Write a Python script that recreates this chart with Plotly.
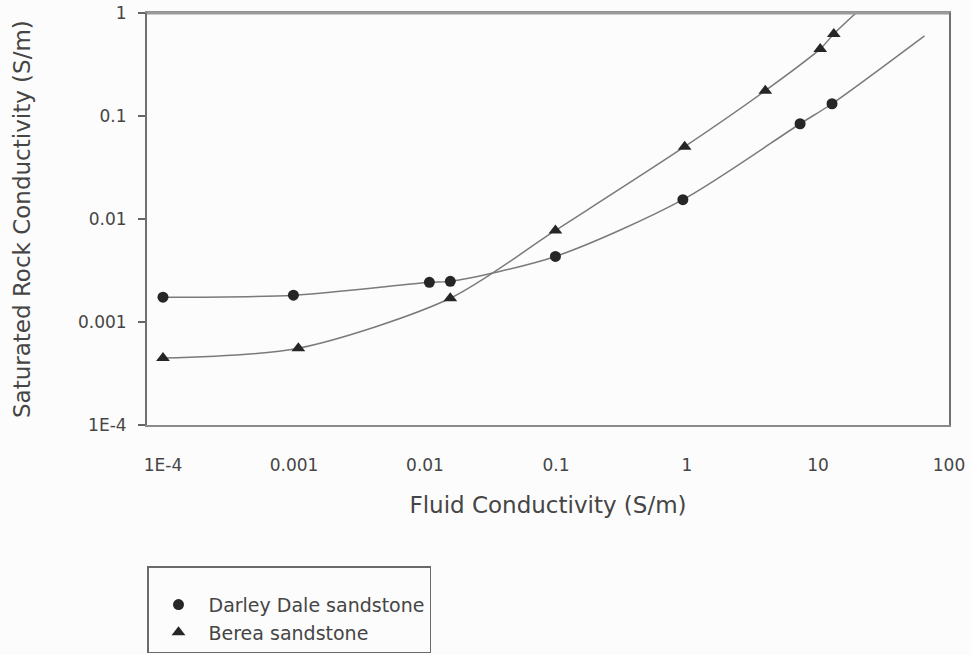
import plotly.graph_objects as go

# Measured points (fluid conductivity vs saturated rock conductivity, S/m)
darley_fluid = [1e-4, 0.00099, 0.0108, 0.0156, 0.099, 0.93, 7.3, 12.8]
darley_rock = [0.00174, 0.00182, 0.00243, 0.00248, 0.00433, 0.0154, 0.0841, 0.1315]

berea_fluid = [1e-4, 0.00108, 0.0156, 0.099, 0.96, 3.96, 10.4, 13.2]
berea_rock = [0.000446, 0.000557, 0.0017, 0.00774, 0.0504, 0.176, 0.448, 0.626]

# Nodes of the fitted model curves
darley_curve_fluid = [1e-4, 0.001, 0.0108, 0.0156, 0.099, 0.93, 7.3, 12.8, 65]
darley_curve_rock = [0.00174, 0.00182, 0.00243, 0.00248, 0.00433, 0.0154, 0.0841, 0.1315, 0.6]

berea_curve_fluid = [1e-4, 0.00108, 0.0156, 0.099, 0.96, 3.96, 10.4, 13.2, 19.5]
berea_curve_rock = [0.000446, 0.000557, 0.0017, 0.00774, 0.0504, 0.176, 0.448, 0.626, 1.0]

x_ticks = [1e-4, 1e-3, 1e-2, 1e-1, 1, 10, 100]
x_tick_labels = ["1E-4", "0.001", "0.01", "0.1", "1", "10", "100"]
y_ticks = [1e-4, 1e-3, 1e-2, 1e-1, 1]
y_tick_labels = ["1E-4", "0.001", "0.01", "0.1", "1"]

FONT = "DejaVu Sans"
TEXT = "#454545"
LINE = "#7a7a7a"
MARK = "#262626"
FRAME = "#8a8a8a"

W, H = 972, 655
ML, MR, MT, MB = 147, 23, 13, 230

fig = go.Figure()

fig.add_trace(go.Scatter(
    x=darley_curve_fluid, y=darley_curve_rock, mode="lines",
    line=dict(color=LINE, width=1.5, shape="spline", smoothing=0.8),
    showlegend=False, hoverinfo="skip"))
fig.add_trace(go.Scatter(
    x=berea_curve_fluid, y=berea_curve_rock, mode="lines",
    line=dict(color=LINE, width=1.5, shape="spline", smoothing=0.8),
    showlegend=False, hoverinfo="skip"))

fig.add_trace(go.Scatter(
    x=darley_fluid, y=darley_rock, mode="markers", name="Darley Dale sandstone",
    marker=dict(symbol="circle", size=11, color=MARK)))
fig.add_trace(go.Scatter(
    x=berea_fluid, y=berea_rock, mode="markers", name="Berea sandstone",
    marker=dict(symbol="triangle-up", size=12, color=MARK)))

fig.update_layout(
    width=W, height=H,
    margin=dict(l=ML, r=MR, t=MT, b=MB, autoexpand=False),
    paper_bgcolor="#fcfcfc", plot_bgcolor="#fcfcfc",
    font=dict(family=FONT, color=TEXT),
    showlegend=True,
    legend=dict(
        xref="container", yref="container",
        x=147 / W, y=1 - 566 / H, xanchor="left", yanchor="top",
        bgcolor="#fcfcfc", bordercolor="#6a6a6a", borderwidth=1.5,
        font=dict(family=FONT, size=19, color=TEXT),
        itemwidth=50,
        title=dict(text=" ", font=dict(size=14)),
    ),
)

fig.update_xaxes(
    type="log", range=[-4.122, 2.0],
    tickvals=x_ticks, ticktext=x_tick_labels,
    tickfont=dict(family=FONT, size=17, color=TEXT),
    ticks="", ticklabelstandoff=24,
    showgrid=False, zeroline=False,
    showline=True, linecolor=FRAME, linewidth=2, mirror=True,
    title=dict(text="Fluid Conductivity (S/m)", standoff=22,
               font=dict(family=FONT, size=23, color=TEXT)),
)
fig.update_yaxes(
    type="log", range=[-4, 0],
    tickvals=y_ticks, ticktext=y_tick_labels,
    tickfont=dict(family=FONT, size=17, color=TEXT),
    ticks="outside", ticklen=7, tickwidth=1.5, tickcolor="#666666",
    ticklabelstandoff=8,
    showgrid=False, zeroline=False,
    showline=True, linecolor="#707070", linewidth=2, mirror=True,
)

# vertical axis title, placed beside the tick labels
plot_w = W - ML - MR
fig.add_annotation(
    text="Saturated Rock Conductivity (S/m)", textangle=-90,
    xref="paper", yref="paper", x=(22 - ML) / plot_w, y=0.5,
    xanchor="center", yanchor="middle", showarrow=False,
    font=dict(family=FONT, size=23, color=TEXT))

# heavier top border of the frame
fig.add_shape(type="line", xref="paper", yref="paper", x0=0, x1=1, y0=1, y1=1,
              line=dict(color="#9a9a9a", width=3))

fig.write_html("out.html")
